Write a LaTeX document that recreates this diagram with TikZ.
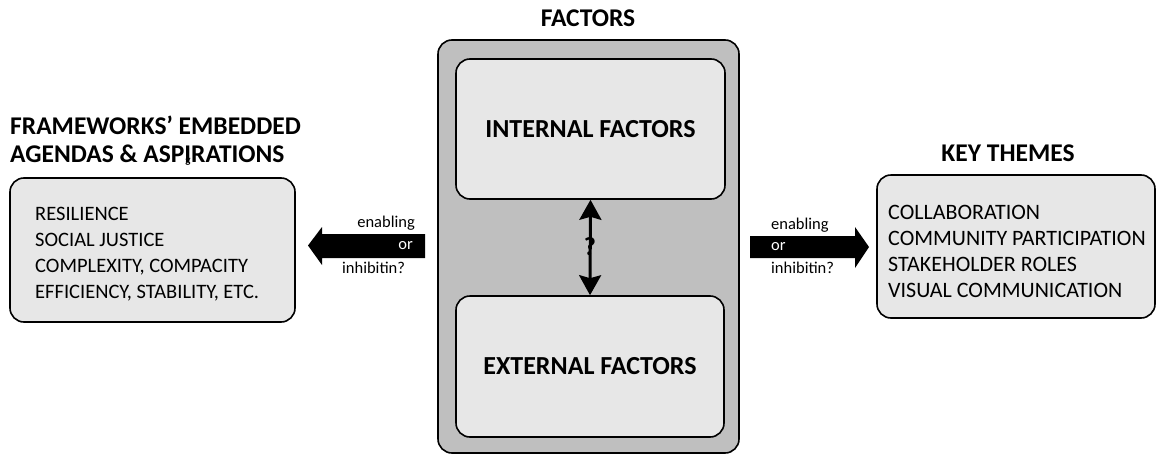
\documentclass[tikz,border=0pt]{standalone}
\usepackage{fontspec}
\setmainfont{Carlito}
\usetikzlibrary{arrows.meta}
\definecolor{panelgray}{HTML}{BFBFBF}
\definecolor{boxgray}{HTML}{E7E7E7}
\begin{document}
\begin{tikzpicture}[x=1pt,y=-1pt,
  roundbox/.style={draw=black,line width=1.6pt,rounded corners=14pt,fill=boxgray,inner sep=0pt},
  title/.style={font=\fontsize{25.5}{28}\selectfont\bfseries,inner sep=0pt},
  bodytext/.style={align=left,inner sep=0pt},
  small/.style={font=\fontsize{16.5}{18}\selectfont,inner sep=0pt},
  blockarrow/.style={fill=black}]
\useasboundingbox (0,0) rectangle (1156,455);

% central panel with its two factor boxes
\node[roundbox,fill=panelgray,minimum width=301pt,minimum height=413pt] (panel) at (588.5,246.5) {};
\node[roundbox,minimum width=269pt,minimum height=140pt,
      font=\fontsize{26}{28}\selectfont\bfseries] (internal) at (590.5,129) {INTERNAL FACTORS};
\node[roundbox,minimum width=268pt,minimum height=141pt,
      font=\fontsize{26}{28}\selectfont\bfseries] (external) at (590,366.5) {EXTERNAL FACTORS};
\node[title] (factorsTitle) at (588,18) {FACTORS};

% two-way link between internal and external factors
\node[font=\fontsize{26}{28}\selectfont\bfseries,inner sep=0pt] (query) at (590,247) {?};
\draw[line width=3pt,{Stealth[length=20pt,width=22pt,inset=3pt]}-{Stealth[length=20pt,width=22pt,inset=3pt]}]
  (internal.south) -- (external.north);

% left: agendas and aspirations
\node[title,align=left,anchor=west] (leftTitle) at (10,141)
  {FRAMEWORKS’ EMBEDDED\\AGENDAS \& ASP\rlap{\kern1pt\raisebox{-1pt}{\fontsize{11}{11}\selectfont g}}IRATIONS};
\node[roundbox,minimum width=285pt,minimum height=144pt] (agendas) at (152.5,250) {};
\node[bodytext,anchor=west,font=\fontsize{20.5}{26}\selectfont] (agendaList) at (35,254)
  {RESILIENCE\\SOCIAL JUSTICE\\COMPLEXITY, COMPACITY\\EFFICIENCY, STABILITY, ETC.};

% right: key themes
\node[title] (themesTitle) at (1008,153) {KEY THEMES};
\node[roundbox,minimum width=278pt,minimum height=143pt] (themes) at (1016,246.5) {};
\node[bodytext,anchor=west,font=\fontsize{22}{26}\selectfont] (themeList) at (888,251)
  {COLLABORATION\\COMMUNITY PARTICIPATION\\STAKEHOLDER ROLES\\VISUAL COMMUNICATION};

% block arrow pointing from the panel to the agendas
\coordinate (lTail) at (425,234);
\fill[blockarrow] (lTail) -- (322,234) -- (322,227) -- (308,245.5) -- (322,265) -- (322,258) -- (425,258) -- cycle;
\node[small,anchor=east] (lEnab) at (415,223) {enabling};
\node[small,anchor=east,text=white] (lOr) at (413,246) {or};
\node[small,anchor=west] (lInh) at (342,268) {inhibitin?};

% block arrow pointing from the panel to the key themes
\coordinate (rTail) at (750,236);
\fill[blockarrow] (rTail) -- (855,236) -- (855,227) -- (869,247) -- (855,268) -- (855,258) -- (750,258) -- cycle;
\node[small,anchor=west] (rEnab) at (771,225) {enabling};
\node[small,anchor=west,text=white] (rOr) at (771,247) {or};
\node[small,anchor=west] (rInh) at (771,268) {inhibitin?};
\end{tikzpicture}
\end{document}
